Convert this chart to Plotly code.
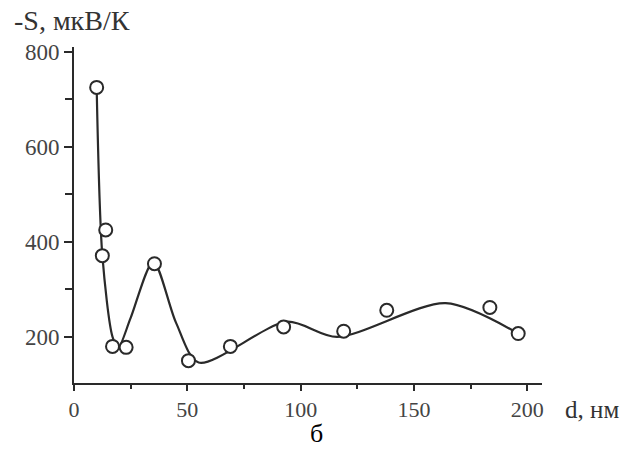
import plotly.graph_objects as go

# measured points
d_nm = [10, 14, 12.5, 17, 23, 35.5, 50.5, 69, 92.5, 119, 138, 183.5, 196]
S_uVK = [725, 425, 371, 180, 178, 354, 150, 180, 221, 212, 256, 262, 207]

# smooth fitted curve (knots)
curve_d = [10, 12.5, 17, 19.5, 25, 35, 45, 55, 94, 116, 164, 196]
curve_S = [725, 372, 200, 177, 240, 358, 230, 146, 232, 200, 271, 207]

x_ticks = [0, 50, 100, 150, 200]
y_ticks = [200, 400, 600, 800]

FONT = "Liberation Serif"
AX = "#2a2a2a"

fig = go.Figure()
fig.add_trace(go.Scatter(x=curve_d, y=curve_S, mode="lines",
                         line=dict(color=AX, width=2.2, shape="spline", smoothing=0.8),
                         hoverinfo="skip", showlegend=False))
fig.add_trace(go.Scatter(x=d_nm, y=S_uVK, mode="markers",
                         marker=dict(symbol="circle", size=13, color="white",
                                     line=dict(color=AX, width=2)),
                         showlegend=False))

fig.update_xaxes(range=[0, 206.5], tickvals=x_ticks, showline=True, linecolor=AX,
                 linewidth=2, ticks="outside", ticklen=6, tickwidth=2, tickcolor=AX,
                 minor=dict(dtick=25, tick0=0, ticklen=4, tickwidth=2, tickcolor=AX, ticks="outside"),
                 showgrid=False, zeroline=False,
                 tickfont=dict(family=FONT, size=22, color="#444"))
fig.update_yaxes(range=[103, 810], tickvals=y_ticks, showline=True, linecolor=AX,
                 linewidth=2, ticks="outside", ticklen=8, tickwidth=2, tickcolor=AX,
                 minor=dict(dtick=100, tick0=0, ticklen=7, tickwidth=2, tickcolor=AX, ticks="outside"),
                 showgrid=False, zeroline=False,
                 tickfont=dict(family=FONT, size=23, color="#444"))

fig.add_annotation(text="-S, мкВ/К", xref="paper", yref="paper", x=-0.132, y=1.08,
                   xanchor="left", yanchor="middle", showarrow=False,
                   font=dict(family=FONT, size=28, color="#333"))
fig.add_annotation(text="d, нм", xref="paper", yref="paper", x=1.045, y=-0.08,
                   xanchor="left", yanchor="middle", showarrow=False,
                   font=dict(family=FONT, size=25, color="#333"))
fig.add_annotation(text="б", xref="paper", yref="paper", x=0.519, y=-0.2,
                   xanchor="center", yanchor="bottom", showarrow=False,
                   font=dict(family=FONT, size=26, color="black"))

fig.update_layout(width=638, height=450, margin=dict(l=74, r=96, t=47, b=67),
                  plot_bgcolor="white", paper_bgcolor="white")
fig.write_html("out.html")
